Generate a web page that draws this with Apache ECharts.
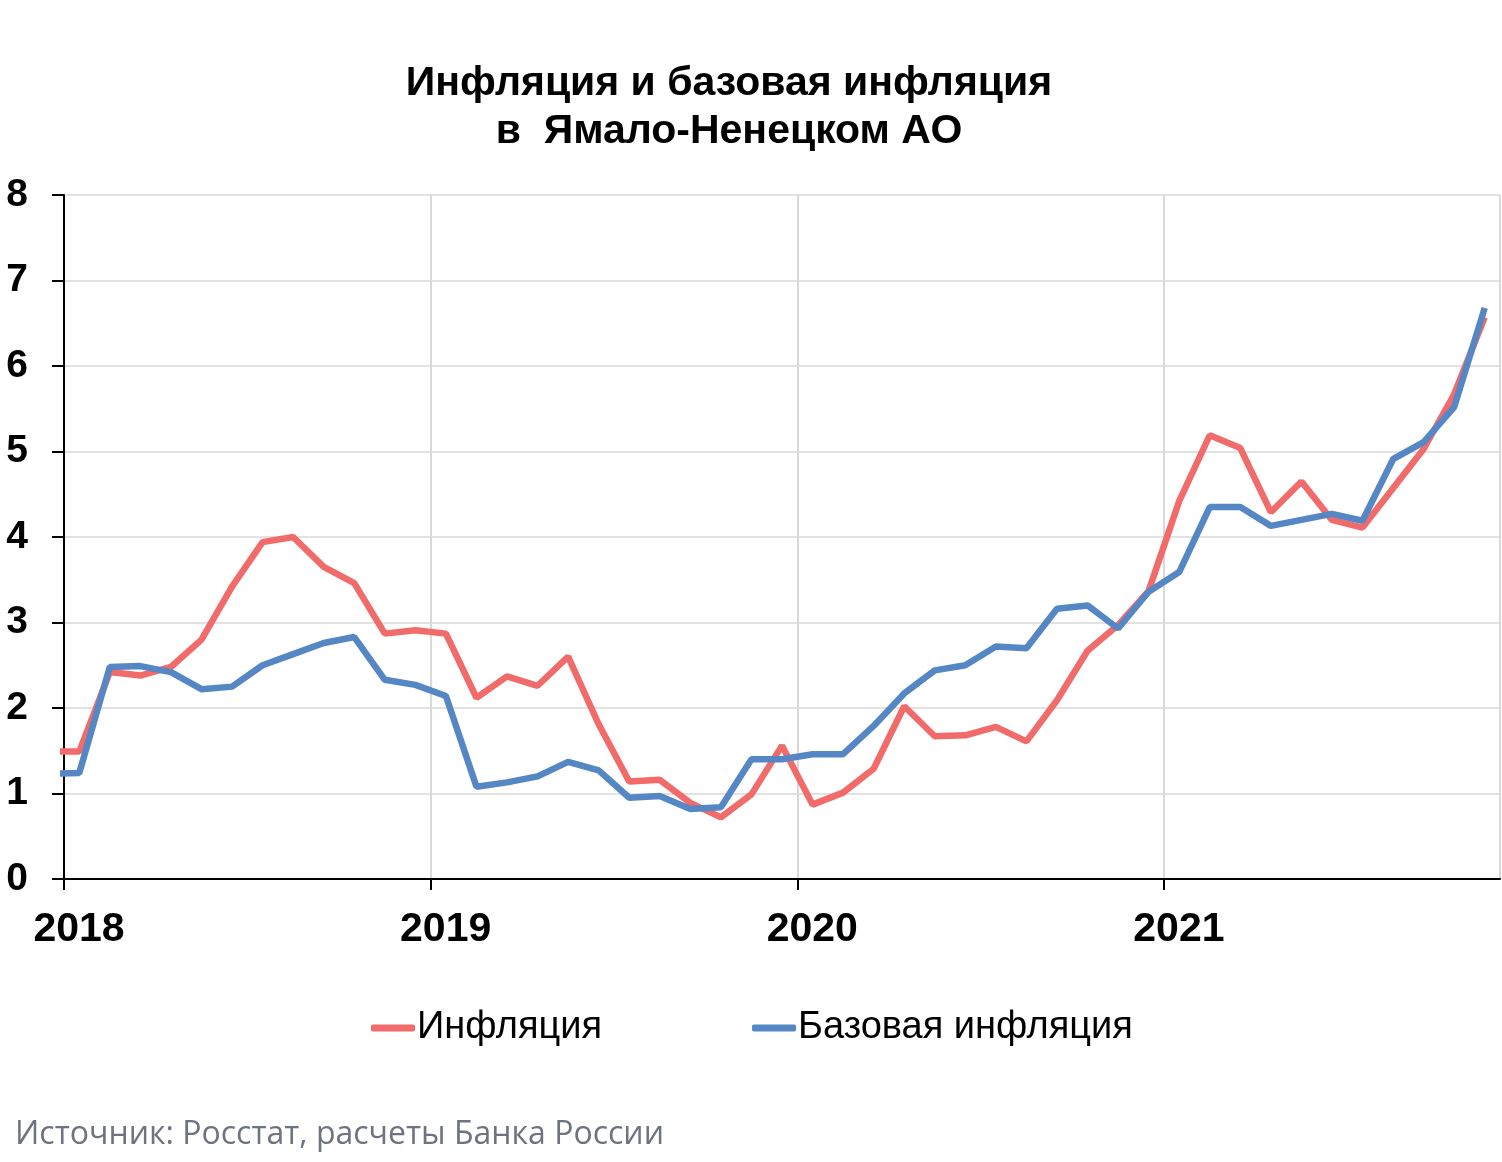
<!DOCTYPE html>
<html>
<head>
<meta charset="utf-8">
<script src="https://cdn.jsdelivr.net/npm/echarts@6/dist/echarts.min.js"></script>
<style>
  html, body { margin: 0; padding: 0; background: #fff; }
  #chart { width: 1502px; height: 1162px; }
</style>
</head>
<body>
<div id="chart"></div>
<script>
// месяцы (первая точка — декабрь 2017, обрезается на оси)
const months = [
  "2017-12",
  "2018-01", "2018-02", "2018-03", "2018-04", "2018-05", "2018-06",
  "2018-07", "2018-08", "2018-09", "2018-10", "2018-11", "2018-12",
  "2019-01", "2019-02", "2019-03", "2019-04", "2019-05", "2019-06",
  "2019-07", "2019-08", "2019-09", "2019-10", "2019-11", "2019-12",
  "2020-01", "2020-02", "2020-03", "2020-04", "2020-05", "2020-06",
  "2020-07", "2020-08", "2020-09", "2020-10", "2020-11", "2020-12",
  "2021-01", "2021-02", "2021-03", "2021-04", "2021-05", "2021-06",
  "2021-07", "2021-08", "2021-09", "2021-10", "2021-11"
];

const inflation = [
  1.49,
  1.49, 2.42, 2.38, 2.48, 2.80, 3.42, 3.94, 4.00, 3.65, 3.46, 2.87, 2.91,
  2.87, 2.12, 2.37, 2.26, 2.60, 1.81, 1.14, 1.16, 0.89, 0.72, 0.99, 1.56,
  0.87, 1.01, 1.29, 2.02, 1.67, 1.68, 1.78, 1.61, 2.09, 2.67, 2.97, 3.37,
  4.42, 5.19, 5.04, 4.29, 4.65, 4.20, 4.11, 4.57, 5.03, 5.67, 6.57
];

const coreInflation = [
  1.23,
  1.24, 2.48, 2.49, 2.42, 2.22, 2.25, 2.50, 2.63, 2.76, 2.83, 2.33, 2.27,
  2.14, 1.08, 1.13, 1.20, 1.37, 1.27, 0.95, 0.97, 0.82, 0.84, 1.40, 1.40,
  1.46, 1.46, 1.79, 2.17, 2.44, 2.50, 2.72, 2.70, 3.16, 3.20, 2.93, 3.36,
  3.59, 4.35, 4.35, 4.13, 4.20, 4.27, 4.19, 4.91, 5.11, 5.52, 6.68
];

const yearLabels = ["2018", "2019", "2020", "2021"];

// позиция месяца на оси: середина месяца, 0 = начало января 2018
function monthPos(m) {
  const [y, mm] = m.split("-").map(Number);
  return (y - 2018) * 12 + (mm - 1) + 0.5;
}

function toPoints(values) {
  return values.map((v, i) => [monthPos(months[i]), v]);
}

const chart = echarts.init(document.getElementById("chart"));
chart.setOption({
  animation: false,
  backgroundColor: "#fff",
  title: {
    text: "Инфляция и базовая инфляция\nв  Ямало-Ненецком АО",
    left: 724,
    top: 55,
    textAlign: "center",
    textStyle: {
      fontFamily: "Liberation Sans, Arial",
      fontWeight: "bold",
      fontSize: 41,
      lineHeight: 48,
      color: "#000",
    },
  },
  grid: {
    left: 64,
    right: 2,
    top: 195,
    bottom: 283,
    containLabel: false,
  },
  legend: {
    left: 366,
    top: 1004,
    itemGap: 150,
    itemWidth: 44,
    itemHeight: 7,
    icon: "roundRect",
    textStyle: {
      fontFamily: "Liberation Sans, Arial",
      fontSize: 38,
      color: "#000",
      padding: [0, 0, 0, -3],
    },
    data: ["Инфляция", "Базовая инфляция"],
  },
  xAxis: {
    type: "value",
    min: 0,
    max: 47,
    interval: 12,
    axisLine: { lineStyle: { color: "#000", width: 2 } },
    axisTick: { show: true, length: 11, lineStyle: { color: "#000", width: 2 } },
    splitLine: { show: true, lineStyle: { color: "#d9d9d9", width: 2 } },
    axisLabel: {
      margin: 30,
      padding: [0, 0, 0, 30],
      fontFamily: "Liberation Sans, Arial",
      fontWeight: "bold",
      fontSize: 41,
      color: "#000",
      showMaxLabel: false,
      formatter: (v) => yearLabels[v / 12] || "",
    },
  },
  yAxis: {
    type: "value",
    min: 0,
    max: 8,
    interval: 1,
    axisLine: { show: true, lineStyle: { color: "#000", width: 2 } },
    axisTick: { show: true, length: 12, lineStyle: { color: "#000", width: 2 } },
    splitLine: { show: true, lineStyle: { color: "#d9d9d9", width: 1.5 } },
    axisLabel: {
      margin: 36,
      fontFamily: "Liberation Sans, Arial",
      fontWeight: "bold",
      fontSize: 39,
      color: "#000",
    },
  },
  series: [
    {
      name: "Инфляция",
      type: "line",
      data: toPoints(inflation),
      showSymbol: false,
      clip: true,
      color: "#f26b6b",
      lineStyle: { width: 6.5, color: "#f26b6b" },
      z: 2,
    },
    {
      name: "Базовая инфляция",
      type: "line",
      data: toPoints(coreInflation),
      showSymbol: false,
      clip: true,
      color: "#5687c5",
      lineStyle: { width: 6.5, color: "#5687c5" },
      z: 3,
    },
  ],
  graphic: [
    {
      type: "text",
      left: 15,
      top: 1119,
      style: {
        text: "Источник: Росстат, расчеты Банка России",
        font: "32px 'Open Sans'",
        fill: "#6e7380",
      },
    },
  ],
});
</script>
</body>
</html>
